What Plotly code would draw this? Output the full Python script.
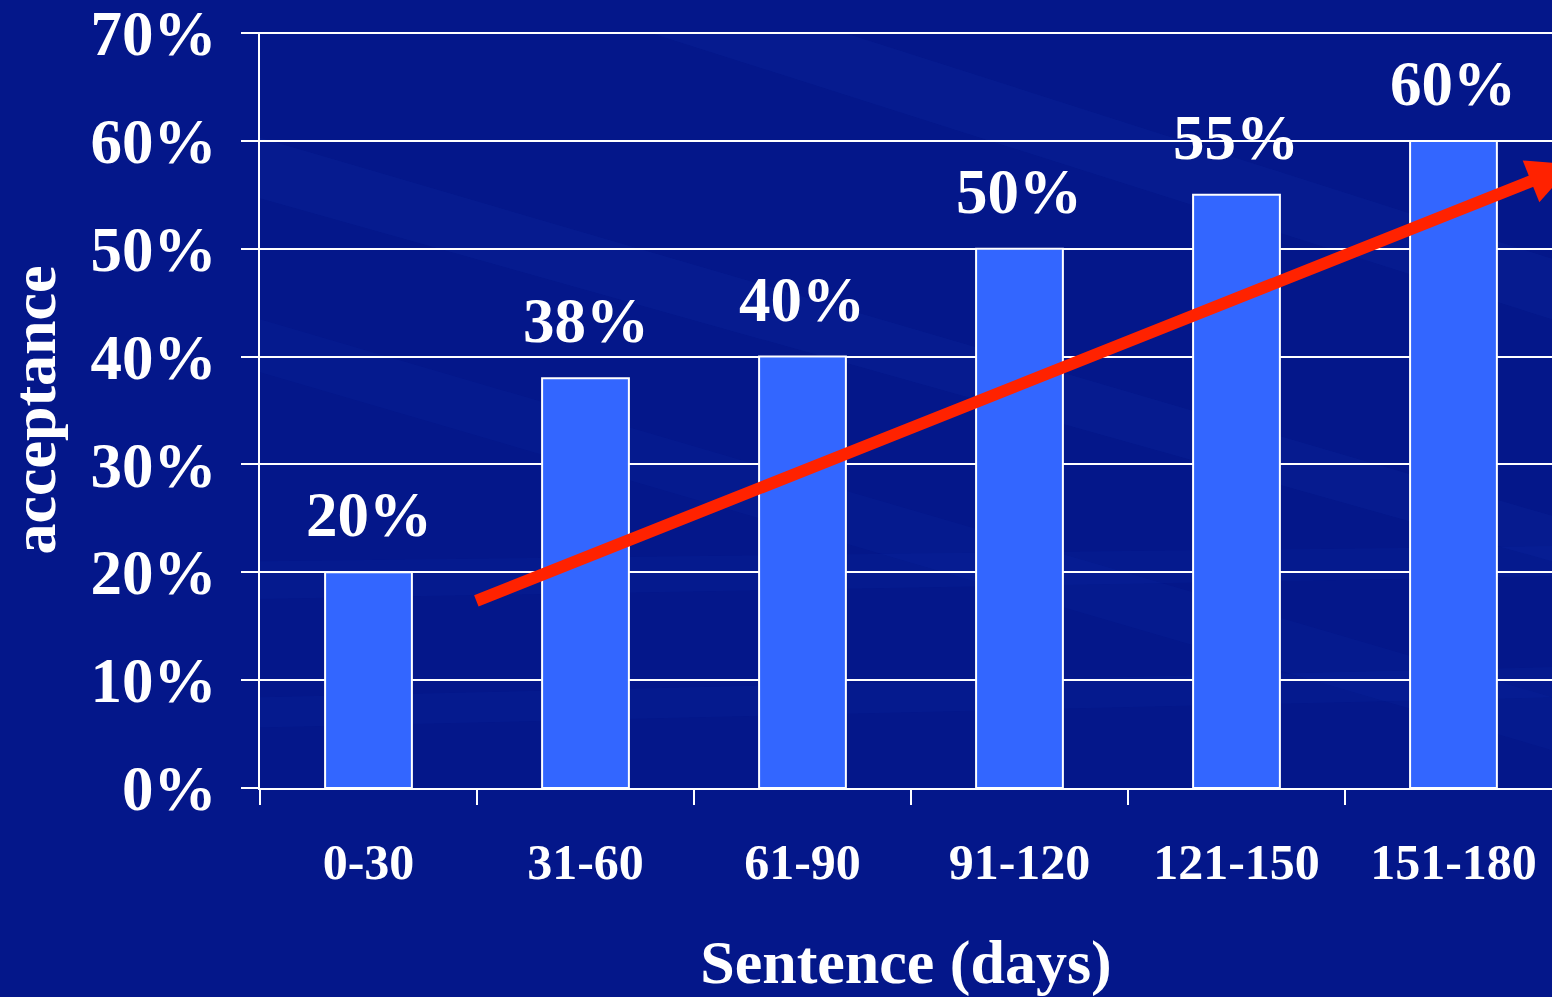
import plotly.graph_objects as go

categories = ["0-30", "31-60", "61-90", "91-120", "121-150", "151-180"]
acceptance = [20, 38, 40, 50, 55, 60]
label_texts = ["20%", "38%", "40%", "50%", "55%", "60%"]
y_ticks = [0, 10, 20, 30, 40, 50, 60, 70]
y_tick_labels = ["0%", "10%", "20%", "30%", "40%", "50%", "60%", "70%"]
trend_x = [0.49, 5.55]
trend_y = [17.3, 57.8]

FONT = "Liberation Serif"
WHITE = "#FFFFFF"
BG = "#04178a"

fig = go.Figure()
fig.add_trace(go.Bar(
    x=categories, y=acceptance, width=0.4,
    marker=dict(color="#3366FF", line=dict(color=WHITE, width=2)),
    hoverinfo="skip",
))

for c, v, t in zip(categories, acceptance, label_texts):
    fig.add_annotation(x=c, y=v, text=t, showarrow=False, yanchor="bottom",
                       yshift=20, font=dict(family=FONT, size=63, color=WHITE, weight="bold"))

fig.add_annotation(x=trend_x[1], y=trend_y[1], ax=trend_x[0], ay=trend_y[0],
                   xref="x", yref="y", axref="x", ayref="y", text="",
                   showarrow=True, arrowhead=2, arrowsize=0.75, arrowwidth=12,
                   arrowcolor="#FF2200", standoff=0, startstandoff=0)

# faint decorative background streaks
streaks = [
    ("M0.0,0.78 L1,0.30 L1,0.36 L0.0,0.86 Z", 0.05),
    ("M0.0,0.55 L1,0.05 L1,0.12 L0.0,0.62 Z", 0.04),
    ("M0.3,1.0 L1,0.62 L1,0.70 L0.45,1.0 Z", 0.05),
    ("M0.0,0.25 L1,0.28 L1,0.32 L0.0,0.30 Z", 0.04),
    ("M0.0,0.08 L1,0.12 L1,0.16 L0.0,0.12 Z", 0.04),
]
for path, op in streaks:
    fig.add_shape(type="path", path=path, xref="paper", yref="paper",
                  fillcolor="#3a6cff", opacity=op, line=dict(width=0), layer="below")

fig.update_layout(
    width=1552, height=997,
    margin=dict(l=260, r=0, t=32, b=209, autoexpand=False),
    paper_bgcolor=BG,
    plot_bgcolor="rgba(0,0,0,0)",
    showlegend=False,
    font=dict(family=FONT, color=WHITE, weight="bold"),
)

fig.update_yaxes(
    range=[0, 70.1], tickvals=y_ticks, ticktext=y_tick_labels,
    showgrid=True, gridcolor=WHITE, gridwidth=2,
    showline=True, linecolor=WHITE, linewidth=2,
    ticks="outside", ticklen=17, tickcolor=WHITE, tickwidth=2,
    tickfont=dict(family=FONT, size=63, color=WHITE, weight="bold"),
    ticklabelstandoff=12, ticklabeloverflow="allow",
    zeroline=False, automargin=False,
    title=dict(text="acceptance", font=dict(family=FONT, size=62, color=WHITE, weight="bold"), standoff=29),
)
fig.update_xaxes(
    range=[-0.5, 5.454],
    showline=True, linecolor=WHITE, linewidth=2,
    ticks="outside", tickson="boundaries", ticklen=15, tickcolor=WHITE, tickwidth=2,
    tickfont=dict(family=FONT, size=50, color=WHITE, weight="bold"),
    ticklabelstandoff=29, ticklabeloverflow="allow",
    showgrid=False, automargin=False,
    title=dict(text="Sentence (days)", font=dict(family=FONT, size=62, color=WHITE, weight="bold"), standoff=52),
)

fig.write_html(
    "out.html",
    config={"displayModeBar": False},
    post_script="document.body.style.margin='0';document.body.style.padding='0';"
                "document.body.style.background='" + BG + "';"
                "document.documentElement.style.overflow='hidden';",
)
